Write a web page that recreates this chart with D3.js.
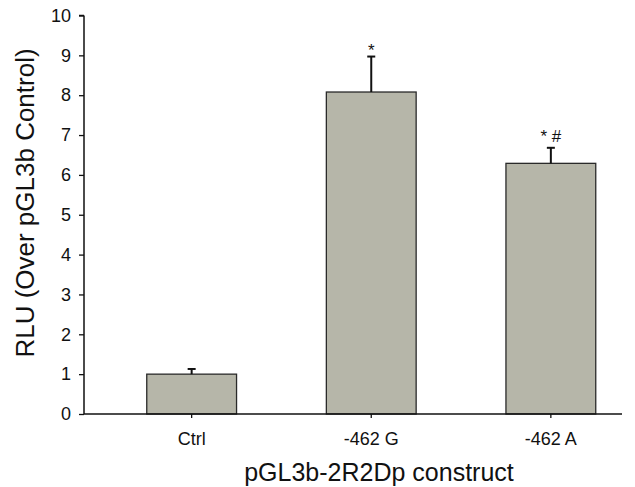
<!DOCTYPE html>
<html>
<head>
<meta charset="utf-8">
<script src="https://cdn.jsdelivr.net/npm/d3@7"></script>
<style>
  body { margin: 0; background: #fff; }
  svg { display: block; }
  text { font-family: "Liberation Sans", Arial, sans-serif; fill: #111; }
</style>
</head>
<body>
<svg id="chart" width="635" height="487"></svg>
<script>
const categories = ["Ctrl", "-462 G", "-462 A"];
const values = [1.0, 8.08, 6.29];
const errors = [0.13, 0.89, 0.39];
const annotations = ["", "*", "* #"];
const yTicks = [0, 1, 2, 3, 4, 5, 6, 7, 8, 9, 10];

const svg = d3.select("#chart");
const axisLeft = 84, axisRight = 622;

const y = d3.scaleLinear().domain([0, 10]).range([414, 15.5]);
const x = d3.scaleBand().domain(categories).range([146.75, 595.75])
  .paddingInner(0.5).paddingOuter(0);

// bars
svg.selectAll("rect.bar").data(categories).join("rect")
  .attr("class", "bar")
  .attr("x", d => x(d))
  .attr("width", x.bandwidth())
  .attr("y", (d, i) => y(values[i]))
  .attr("height", (d, i) => y(0) - y(values[i]))
  .attr("fill", "#b6b6a9")
  .attr("stroke", "#2a2a2a")
  .attr("stroke-width", 1.3);

// error bars
const eb = svg.append("g").attr("stroke", "#111").attr("stroke-width", 2);
categories.forEach((c, i) => {
  const cx = x(c) + x.bandwidth() / 2;
  eb.append("line").attr("x1", cx).attr("x2", cx)
    .attr("y1", y(values[i])).attr("y2", y(values[i] + errors[i]));
  eb.append("line").attr("x1", cx - 4).attr("x2", cx + 4)
    .attr("y1", y(values[i] + errors[i])).attr("y2", y(values[i] + errors[i]));
});

// annotations
categories.forEach((c, i) => {
  const a = annotations[i];
  if (!a) return;
  const cx = x(c) + x.bandwidth() / 2;
  const gap = a.length > 1 ? 6 : 1;
  svg.append("text")
    .attr("x", cx)
    .attr("y", y(values[i] + errors[i]) - gap)
    .attr("text-anchor", "middle")
    .attr("font-size", 17)
    .text(a);
});

// y axis
const yAxis = svg.append("g").attr("transform", `translate(${axisLeft},0)`)
  .call(d3.axisLeft(y).tickValues(yTicks).tickSize(5).tickPadding(8).tickFormat(d3.format("d")));
yAxis.select(".domain").attr("stroke", "#111").attr("stroke-width", 1.5)
  .attr("d", `M0,${y(10)}V${y(0)}M-5,${y(10)}H0`);
yAxis.selectAll(".tick line").attr("stroke", "#111").attr("stroke-width", 1.3);
yAxis.selectAll(".tick text").attr("font-size", 18).attr("fill", "#111");

// x axis
const xAxis = svg.append("g").attr("transform", `translate(0,${y(0)})`)
  .call(d3.axisBottom(x).tickSize(4).tickPadding(14));
xAxis.select(".domain").attr("stroke", "#111").attr("stroke-width", 1.5)
  .attr("d", `M${axisLeft},0H${axisRight}`);
xAxis.selectAll(".tick line").attr("stroke", "#111").attr("stroke-width", 1.3);
xAxis.selectAll(".tick text").attr("font-size", 18).attr("fill", "#111");

// axis titles
svg.append("text")
  .attr("x", 379).attr("y", 481)
  .attr("text-anchor", "middle")
  .attr("font-size", 25)
  .text("pGL3b-2R2Dp construct");

svg.append("text")
  .attr("transform", "translate(34,203) rotate(-90)")
  .attr("text-anchor", "middle")
  .attr("font-size", 26)
  .text("RLU (Over pGL3b Control)");
</script>
</body>
</html>
